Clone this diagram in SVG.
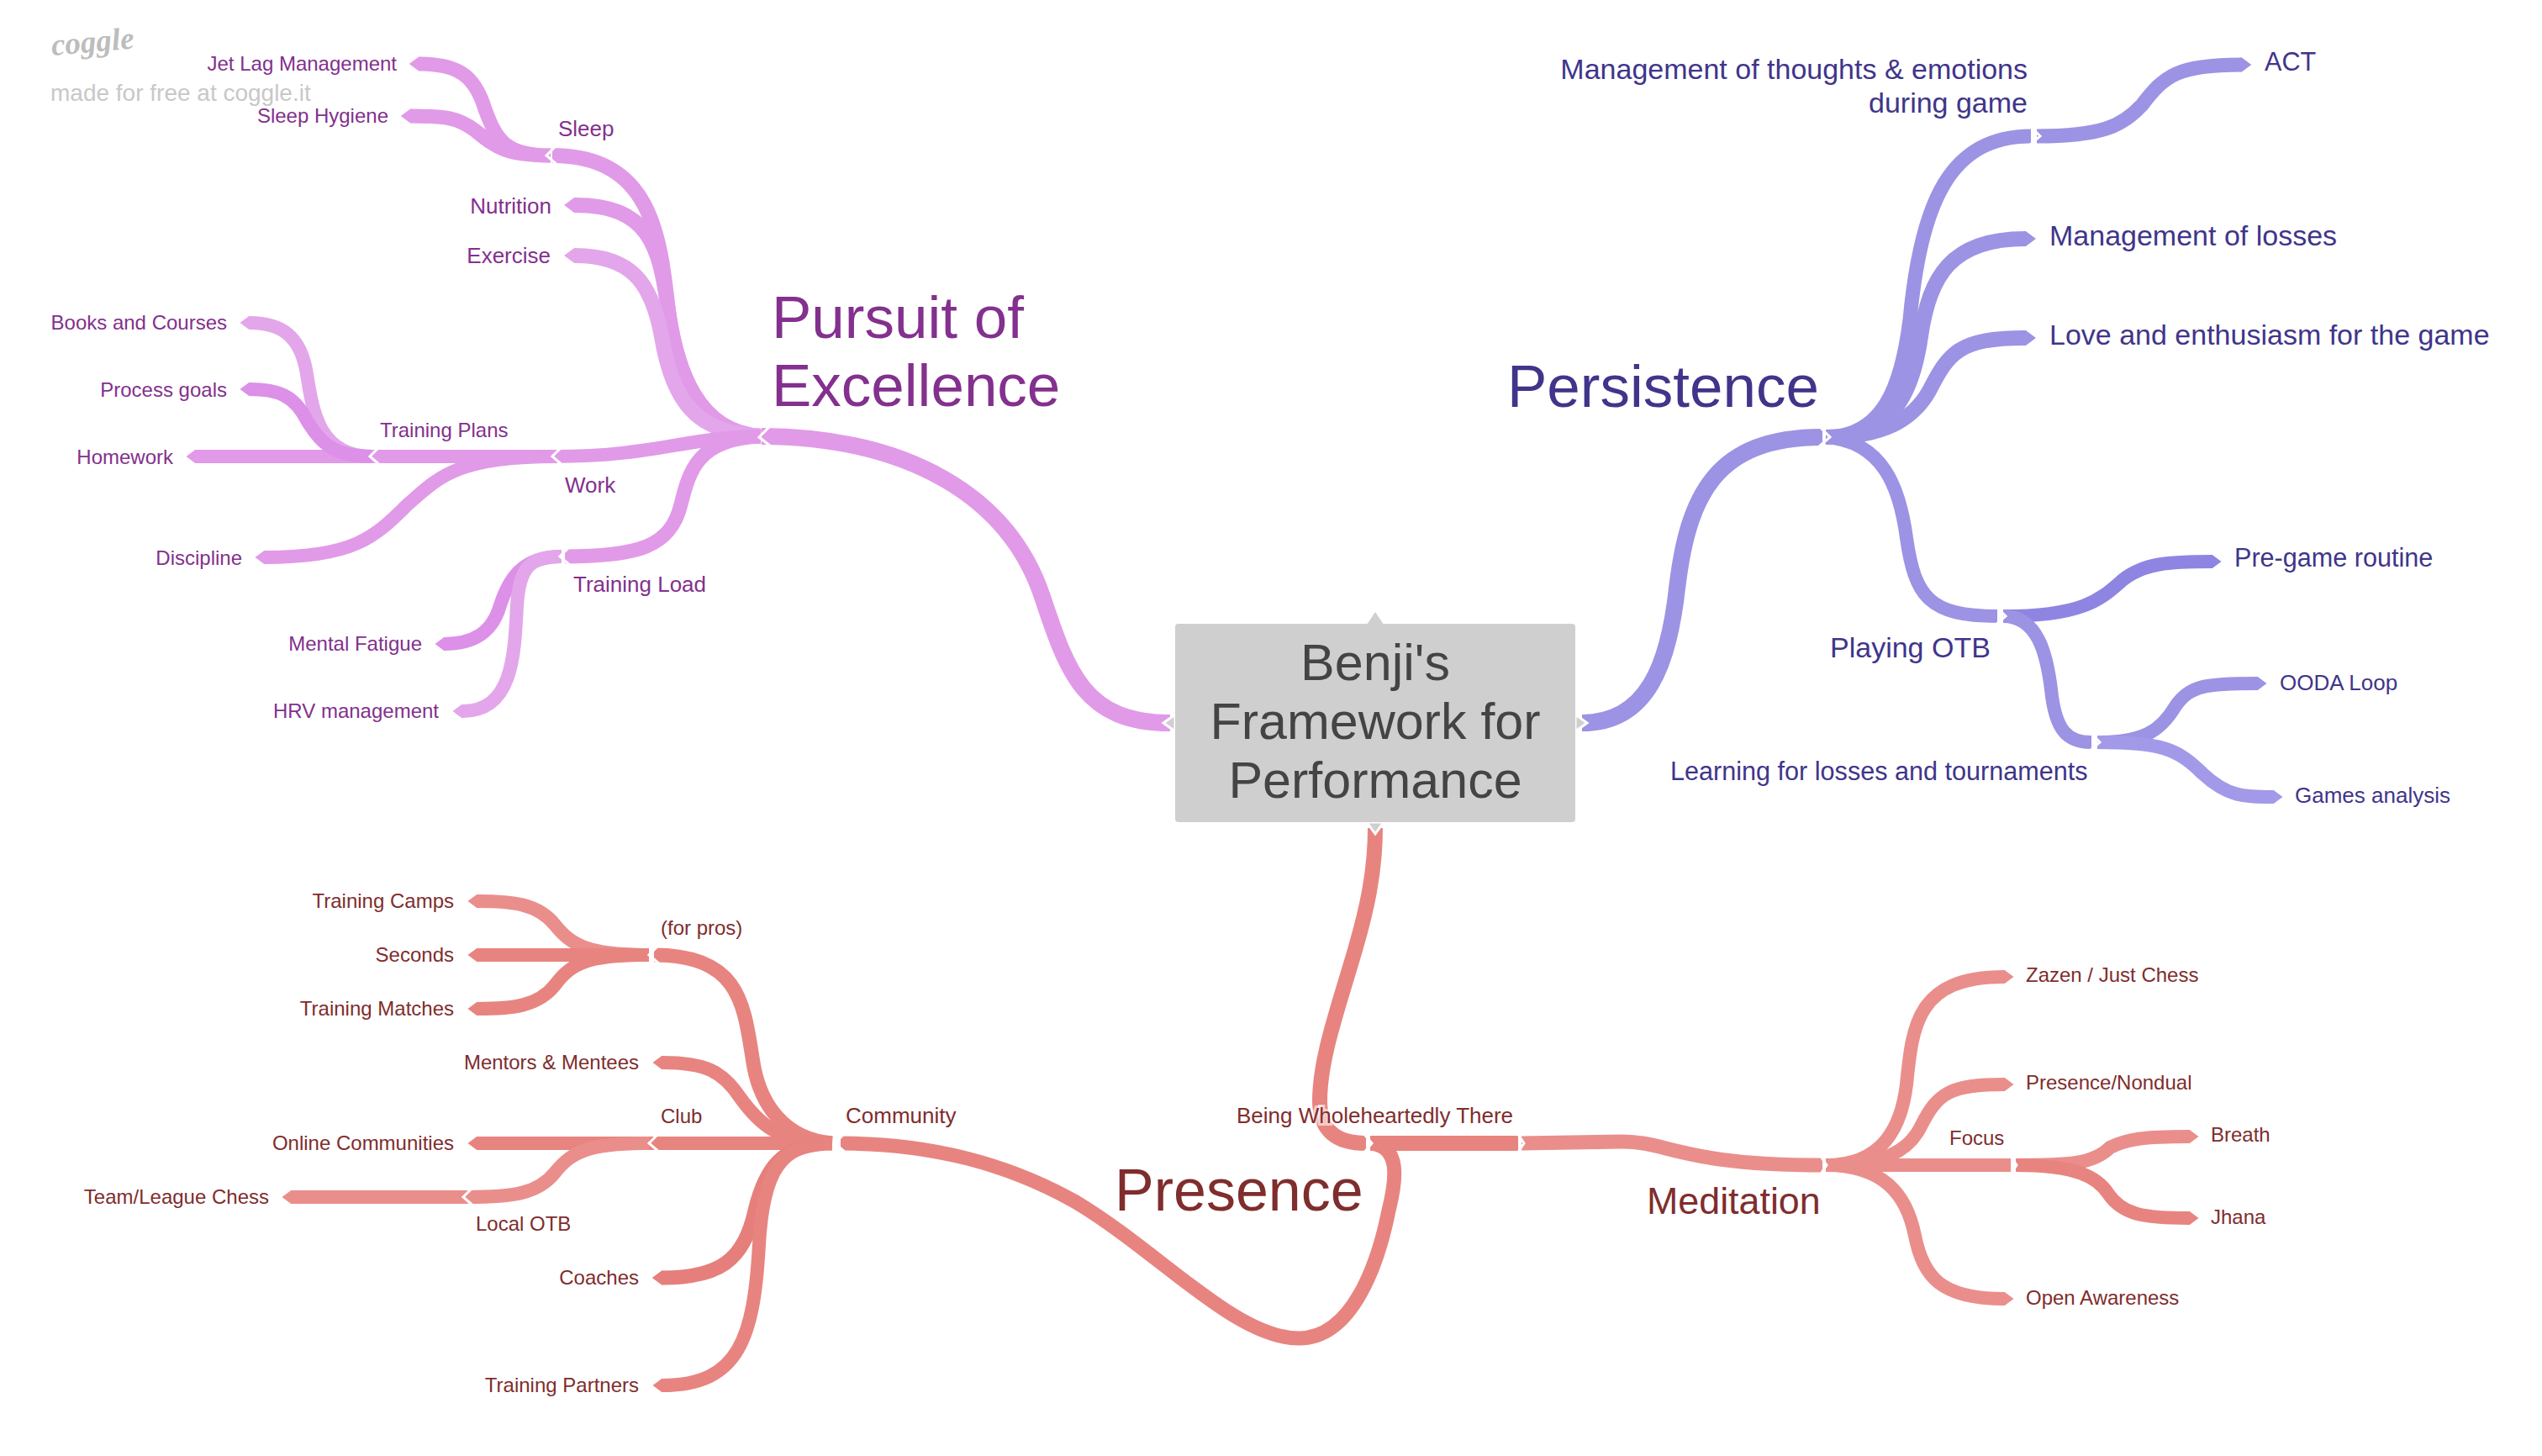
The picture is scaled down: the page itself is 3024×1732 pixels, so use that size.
<svg xmlns="http://www.w3.org/2000/svg" width="3024" height="1732" viewBox="0 0 3024 1732">
<style>
text{font-family:"Liberation Sans",Arial,sans-serif}
.c{fill:none;stroke-linecap:butt;stroke-linejoin:round}
.t{marker-end:url(#tip)}
.p{stroke:#E19AE8}.p2{stroke:#E3A6EA}.p3{stroke:#DC90E8}
.v{stroke:#9C93E4}.v2{stroke:#8E85E2}.v3{stroke:#A29AE8}
.r{stroke:#E88480}.r2{stroke:#EA8E8C}.r3{stroke:#E67F7B}
.w15{stroke-width:16}.w16{stroke-width:17}.w17{stroke-width:18}.w19{stroke-width:20}
.ch{fill:none;stroke:#fff;stroke-width:3}
.pt{fill:#83308E}.vt{fill:#40358A}.rt{fill:#7F2D2D}
.s24{font-size:24px}.s26{font-size:26px}.s30{font-size:30.6px}.s34{font-size:34px}.s44{font-size:44.8px}.s70{font-size:71px}
.e{text-anchor:end}
</style>
<defs>
<marker id="tip" markerUnits="strokeWidth" markerWidth="0.8" markerHeight="1" refX="0" refY="0.5" viewBox="0 0 0.8 1" orient="auto" overflow="visible"><path d="M-.05,0L.05,0L.72,.5L.05,1L-.05,1Z" fill="context-stroke"/></marker>
</defs>
<g id="connectors">
<path class="c p w19" d="M1392,860C1290,860 1270,800 1240,710C1200,590 1080,520 906,519"/>
<path class="c p w17" d="M905,519C830,515 805,440 795,370C785,280 775,185 657,185"/>
<path class="c p w17 t" d="M905,519C830,515 805,440 795,370C785,290 770,244 684,244"/>
<path class="c p2 w17 t" d="M905,519C830,515 800,480 787,400C775,335 750,304 684,304"/>
<path class="c p w15" d="M905,519C820,519 780,543 660,543"/>
<path class="c p w15" d="M657,543L445,543"/>
<path class="c p w15 t" d="M445,543L233,543"/>
<path class="c p2 w15 t" d="M442,543C380,543 372,490 365,445C358,400 335,384 297,384"/>
<path class="c p3 w15 t" d="M442,543C395,543 380,525 365,500C350,470 330,463 297,463"/>
<path class="c p w15 t" d="M660,543C540,543 520,570 485,600C445,640 420,663 315,663"/>
<path class="c p w16" d="M905,519C830,522 820,560 810,600C798,650 760,662 672,662"/>
<path class="c p3 w15 t" d="M668,662C620,662 605,690 595,720C585,755 560,766 529,766"/>
<path class="c p2 w15 t" d="M668,662C630,662 618,675 615,720C612,780 610,846 550,846"/>
<path class="c p w16 t" d="M655,185C600,185 590,165 577,130C565,90 545,76 499,76"/>
<path class="c p w16 t" d="M655,185C600,185 590,175 565,155C545,140 530,138 489,138"/>

<path class="c v w19" d="M1882,860C1960,860 1985,790 1995,700C2008,590 2040,520 2168,520"/>
<path class="c v w16" d="M2172,520C2240,520 2262,460 2272,380C2285,240 2320,162 2416,162"/>
<path class="c v w16 t" d="M2423,162C2500,162 2525,150 2548,125C2575,90 2590,77 2666,77"/>
<path class="c v w17 t" d="M2172,520C2250,520 2275,470 2285,400C2295,330 2320,284 2409,284"/>
<path class="c v w17 t" d="M2172,520C2240,520 2275,500 2295,465C2318,420 2330,402 2409,402"/>
<path class="c v w15" d="M2172,520C2240,525 2260,580 2268,640C2278,710 2295,733 2376,733"/>
<path class="c v2 w15 t" d="M2383,733C2480,733 2500,712 2525,690C2550,670 2580,668 2631,668"/>
<path class="c v w15" d="M2383,733C2425,733 2435,780 2440,820C2445,870 2460,883 2488,883"/>
<path class="c v w15 t" d="M2495,883C2550,883 2570,870 2588,840C2605,815 2625,813 2685,813"/>
<path class="c v3 w15 t" d="M2495,883C2570,883 2590,890 2620,920C2650,948 2670,948 2704,948"/>

<path class="c r w17" d="M1636,985C1636,1040 1625,1085 1612,1130C1590,1205 1570,1260 1570,1310C1570,1345 1590,1360 1625,1360"/>
<path class="c r w17" d="M1630,1360L1806,1360"/>
<path class="c r2 w16" d="M1810,1360L1930,1358C1985,1358 2000,1386 2168,1386"/>
<path class="c r w16" d="M1000,1360C1110,1360 1200,1385 1280,1430C1380,1490 1470,1592 1545,1592C1610,1592 1640,1500 1652,1440C1662,1400 1665,1365 1632,1360"/>
<path class="c r w16" d="M990,1360C930,1355 905,1310 897,1270C885,1200 885,1136 778,1136"/>
<path class="c r2 w15 t" d="M772,1136C700,1136 680,1125 660,1100C640,1075 610,1072 568,1072"/>
<path class="c r w15 t" d="M772,1136L568,1136"/>
<path class="c r w15 t" d="M772,1136C700,1136 680,1145 660,1172C640,1197 610,1200 568,1200"/>
<path class="c r w15 t" d="M990,1360C930,1360 905,1340 880,1305C860,1275 840,1264 788,1264"/>
<path class="c r w15" d="M990,1360L775,1360"/>
<path class="c r w15 t" d="M775,1360L568,1360"/>
<path class="c r2 w15" d="M772,1360C700,1360 680,1370 660,1395C640,1420 610,1424 556,1424"/>
<path class="c r2 w15 t" d="M556,1424L347,1424"/>
<path class="c r3 w16 t" d="M990,1360C930,1360 910,1390 898,1440C885,1500 855,1520 788,1520"/>
<path class="c r w15 t" d="M990,1360C930,1360 908,1390 903,1480C897,1590 880,1648 788,1648"/>
<path class="c r2 w15 t" d="M2172,1386C2240,1386 2262,1340 2268,1290C2275,1220 2280,1162 2384,1162"/>
<path class="c r2 w15 t" d="M2172,1386C2240,1386 2270,1370 2285,1340C2305,1300 2320,1290 2384,1290"/>
<path class="c r2 w15" d="M2172,1386L2392,1386"/>
<path class="c r2 w15 t" d="M2398,1386C2460,1386 2490,1385 2510,1365C2530,1355 2550,1352 2604,1352"/>
<path class="c r w15 t" d="M2398,1386C2470,1386 2495,1400 2508,1420C2525,1445 2550,1449 2604,1449"/>
<path class="c r2 w15 t" d="M2172,1386C2240,1386 2268,1420 2278,1470C2288,1520 2310,1545 2384,1545"/>

<path class="ch" d="M915,508L903,520L917,531"/>
<path class="ch" d="M662,173L650,185L664,197"/>
<path class="ch" d="M669,531L657,543L671,555"/>
<path class="ch" d="M452,531L440,543L454,555"/>
<path class="ch" d="M678,650L666,662L680,674"/>
<path class="ch" d="M2165,508L2177,520L2163,532"/>
<path class="ch" d="M2415,150L2427,162L2413,174"/>
<path class="ch" d="M2374,721L2386,733L2372,745"/>
<path class="ch" d="M2486,871L2498,883L2484,895"/>
<path class="ch" d="M1005,1348L993,1360L1007,1372"/>
<path class="ch" d="M784,1124L772,1136L786,1148"/>
<path class="ch" d="M784,1348L772,1360L786,1372"/>
<path class="ch" d="M563,1412L551,1424L565,1436"/>
<path class="ch" d="M1622,1348L1632,1360L1622,1372"/>
<path class="ch" d="M1805,1348L1813,1360L1805,1372"/>
<path class="ch" d="M2165,1374L2173,1386L2165,1398"/>
<path class="ch" d="M2391,1374L2399,1386L2391,1398"/>
</g>
<g id="center">
<path d="M1384,860L1398,850V870ZM1888,860L1874,850V870ZM1636,992L1626,978H1646Z" fill="#CFCFCF" stroke="#fff" stroke-width="3"/>
<path d="M1636,728L1646,743H1626Z" fill="#CFCFCF"/>
<rect x="1398" y="742" width="476" height="236" rx="4" fill="#CFCFCF"/>
<g fill="#444" font-size="61" text-anchor="middle"><text x="1636" y="809">Benji's</text><text x="1636" y="879">Framework for</text><text x="1636" y="949">Performance</text></g>
</g>
<g id="logo"><text x="62" y="66" font-size="37" fill="#BDBDBD" transform="rotate(-5 62 66)" style="font-family:'Liberation Serif',serif;font-style:italic;font-weight:bold">coggle</text><text x="60" y="120" font-size="28" fill="#C8C8C8">made for free at coggle.it</text></g>
<g id="pursuit" class="pt">
<g id="n-pursuit"><text class="s70" x="918" y="402">Pursuit of</text><text class="s70" x="918" y="483">Excellence</text></g>
<text id="n-jetlag" class="s24 e" x="472" y="84">Jet Lag Management</text>
<text id="n-hygiene" class="s24 e" x="462" y="146">Sleep Hygiene</text>
<text id="n-sleep" class="s26" x="664" y="162">Sleep</text>
<text id="n-nutrition" class="s26 e" x="656" y="254">Nutrition</text>
<text id="n-exercise" class="s26 e" x="655" y="313">Exercise</text>
<text id="n-books" class="s24 e" x="270" y="392">Books and Courses</text>
<text id="n-process" class="s24 e" x="270" y="472">Process goals</text>
<text id="n-homework" class="s24 e" x="206" y="552">Homework</text>
<text id="n-plans" class="s24" x="452" y="520">Training Plans</text>
<text id="n-work" class="s26" x="672" y="586">Work</text>
<text id="n-discipline" class="s24 e" x="288" y="672">Discipline</text>
<text id="n-load" class="s26" x="682" y="704">Training Load</text>
<text id="n-fatigue" class="s24 e" x="502" y="774">Mental Fatigue</text>
<text id="n-hrv" class="s24 e" x="522" y="854">HRV management</text>
</g>
<g id="persistence" class="vt">
<text id="n-persistence" class="s70" x="1793" y="484">Persistence</text>
<g id="n-thoughts" class="s34 e"><text x="2412" y="94">Management of thoughts &amp; emotions</text><text x="2412" y="134">during game</text></g>
<text id="n-act" class="s30" x="2694" y="84">ACT</text>
<text id="n-losses" class="s34" x="2438" y="292">Management of losses</text>
<text id="n-love" class="s34" x="2438" y="410">Love and enthusiasm for the game</text>
<text id="n-pregame" class="s30" x="2658" y="674">Pre-game routine</text>
<text id="n-otb" x="2177" y="782" style="font-size:34px">Playing OTB</text>
<text id="n-ooda" class="s26" x="2712" y="821">OODA Loop</text>
<text id="n-learning" class="s30" x="1987" y="928">Learning for losses and tournaments</text>
<text id="n-games" class="s26" x="2730" y="955">Games analysis</text>
</g>
<g id="presence" class="rt">
<text id="n-presence" x="1326" y="1440" style="font-size:70px">Presence</text>
<text id="n-meditation" class="s44" x="1959" y="1444">Meditation</text>
<text id="n-being" class="s26" x="1471" y="1336" style="paint-order:stroke;stroke:#fff;stroke-opacity:.6;stroke-width:6px">Being Wholeheartedly There</text>
<text id="n-community" class="s26" x="1006" y="1336">Community</text>
<text id="n-camps" class="s24 e" x="540" y="1080">Training Camps</text>
<text id="n-seconds" class="s24 e" x="540" y="1144">Seconds</text>
<text id="n-matches" class="s24 e" x="540" y="1208">Training Matches</text>
<text id="n-pros" class="s24" x="786" y="1112">(for pros)</text>
<text id="n-mentors" class="s24 e" x="760" y="1272">Mentors &amp; Mentees</text>
<text id="n-club" class="s24" x="786" y="1336">Club</text>
<text id="n-online" class="s24 e" x="540" y="1368">Online Communities</text>
<text id="n-team" class="s24 e" x="320" y="1432">Team/League Chess</text>
<text id="n-local" class="s24" x="566" y="1464">Local OTB</text>
<text id="n-coaches" class="s24 e" x="760" y="1528">Coaches</text>
<text id="n-partners" class="s24 e" x="760" y="1656">Training Partners</text>
<text id="n-zazen" class="s24" x="2410" y="1168">Zazen / Just Chess</text>
<text id="n-nondual" class="s24" x="2410" y="1296">Presence/Nondual</text>
<text id="n-focus" class="s24" x="2319" y="1362">Focus</text>
<text id="n-breath" class="s24" x="2630" y="1358">Breath</text>
<text id="n-jhana" class="s24" x="2630" y="1456">Jhana</text>
<text id="n-open" class="s24" x="2410" y="1552">Open Awareness</text>
</g>
</svg>
